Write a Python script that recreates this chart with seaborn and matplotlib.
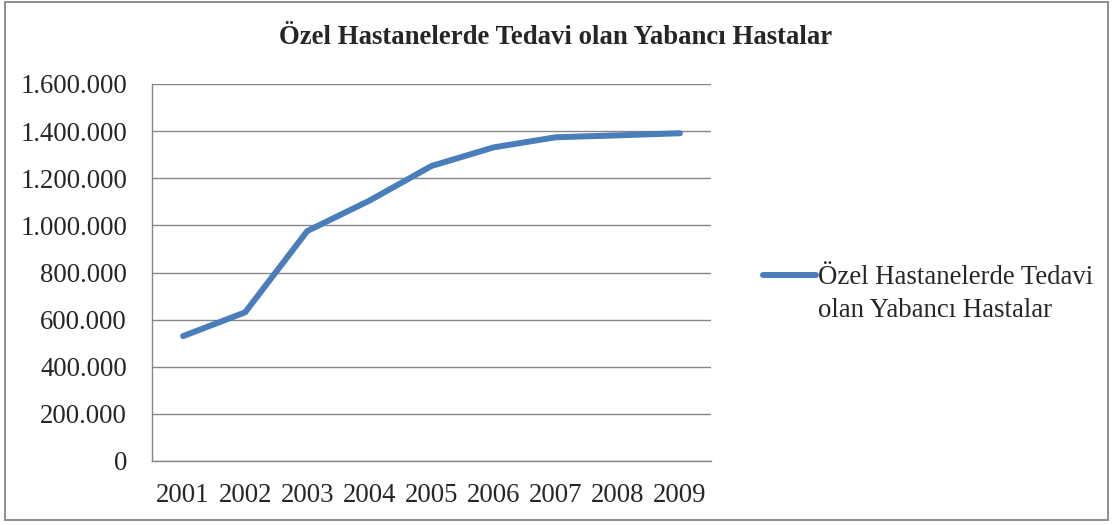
import numpy as np
import pandas as pd
import matplotlib.pyplot as plt
import matplotlib.ticker as mticker
from matplotlib.patches import Rectangle
import seaborn as sns

# datos
years = ['2001', '2002', '2003', '2004', '2005', '2006', '2007', '2008', '2009']
patients = [530000, 631000, 976000, 1105000, 1252000, 1331000, 1374000, 1382000, 1391000]
series_name = 'Özel Hastanelerde Tedavi\nolan Yabancı Hastalar'
title = 'Özel Hastanelerde Tedavi olan Yabancı Hastalar'

sns.set_style('white')
plt.rcParams['font.family'] = ['Liberation Serif', 'DejaVu Serif']
fs = 19.3

df = pd.DataFrame({'year': years, 'patients': patients})

fig = plt.figure(figsize=(11.12, 5.25), dpi=100)
ax = fig.add_axes([152/1112, 1 - 461/525, (711 - 152)/1112, (461 - 84)/525])

grid_c = '#868686'
sns.lineplot(data=df, x='year', y='patients', ax=ax, color='#4A7EBB',
             linewidth=4.3, label=series_name, solid_capstyle='round')

ax.set_ylim(0, 1600000)
ax.set_xlim(-0.5, len(years) - 0.5)
ax.yaxis.set_major_locator(mticker.MultipleLocator(200000))
ax.yaxis.set_major_formatter(mticker.FuncFormatter(lambda v, p: f'{v:,.0f}'.replace(',', '.')))
ax.grid(axis='y', color=grid_c, linewidth=1.0)
ax.set_axisbelow(True)

# ticks en los limites de categoria, etiquetas en el centro
ax.set_xticks([i - 0.5 for i in range(len(years) + 1)])
ax.set_xticklabels([])
ax.set_xticks(range(len(years)), minor=True)
ax.set_xticklabels(years, minor=True)
ax.tick_params(axis='x', which='major', length=6, width=1, color=grid_c, direction='out')
ax.tick_params(axis='x', which='minor', length=0, labelsize=fs, pad=16)
ax.tick_params(axis='y', length=6, width=1, color=grid_c, direction='out', labelsize=fs, pad=12)

for s in ['top', 'right']:
    ax.spines[s].set_visible(False)
for s in ['left', 'bottom']:
    ax.spines[s].set_color(grid_c)
    ax.spines[s].set_linewidth(1.0)

ax.set_xlabel('')
ax.set_ylabel('')

fig.text(0.5, 1 - 38/525, title, ha='center', va='center', fontsize=fs, fontweight='bold')

leg = ax.legend(loc='center left', bbox_to_anchor=(1.050, 0.443), frameon=False,
                fontsize=fs, handlelength=1.96, handletextpad=0.1, labelspacing=0.2)
leg.get_texts()[0].set_linespacing(1.4)
# la linea de la leyenda va a la altura de la primera linea del texto
hl = leg.get_lines()[0]
hl.set_ydata(np.asarray(hl.get_ydata()) + 13.8)

fig.patches.append(Rectangle((5/1112, 5/525), 1103/1112, 518/525, transform=fig.transFigure,
                             fill=False, edgecolor=grid_c, linewidth=1.3))

plt.savefig('out.png', dpi=100)
